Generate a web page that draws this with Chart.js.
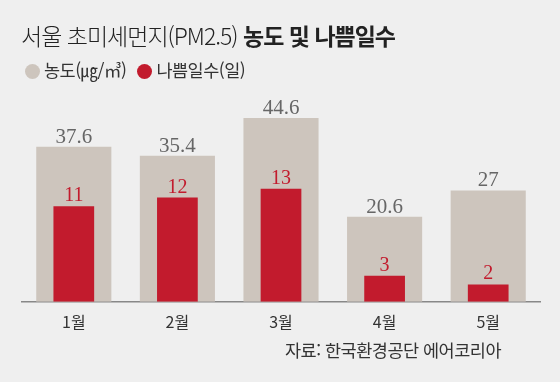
<!DOCTYPE html>
<html lang="ko">
<head>
<meta charset="utf-8">
<script src="https://cdn.jsdelivr.net/npm/chart.js@4/dist/chart.umd.min.js"></script>
<style>
  html, body { margin: 0; padding: 0; }
  body { width: 560px; height: 382px; background: #efefef; position: relative; overflow: hidden;
         font-family: "Noto Sans CJK KR", "Noto Sans", sans-serif; color: #222; }
  #title { position: absolute; left: 21px; top: 18px; font-size: 23px; letter-spacing: -1px; white-space: nowrap; font-weight: 300; }
  #title b { font-weight: 700; }
  #legend { position: absolute; left: 25px; top: 57px; font-size: 17.5px; color: #333; white-space: nowrap; letter-spacing: -0.5px; }
  #legend span.dot { display: inline-block; width: 15px; height: 15px; border-radius: 50%; vertical-align: -2px; margin-right: 4px; }
  #legend span.item { margin-right: 11px; }
  #source { position: absolute; right: 59px; top: 337px; font-size: 17.5px; color: #333; letter-spacing: -0.5px; white-space: nowrap; }
  #wrap { position: absolute; left: 0; top: 0; width: 560px; height: 382px; }
</style>
</head>
<body>
<div id="wrap"><canvas id="chart"></canvas></div>
<div id="title">서울 초미세먼지(PM2.5) <b>농도 및 나쁨일수</b></div>
<div id="legend"><span class="item"><span class="dot" style="background:#cdc5bd"></span>농도(㎍/㎥)</span><span class="item"><span class="dot" style="background:#c21b2d"></span>나쁨일수(일)</span></div>
<div id="source">자료: 한국환경공단 에어코리아</div>
<script>
// 월별 값
const months = ["1월", "2월", "3월", "4월", "5월"];
const pm25 = [37.6, 35.4, 44.6, 20.6, 27];
const badDays = [11, 12, 13, 3, 2];

const grayColor = "#cdc5bd";
const redColor = "#c21b2d";

// bar value labels
const valueLabels = {
  id: "valueLabels",
  afterDatasetsDraw(chart) {
    const ctx = chart.ctx;
    ctx.save();
    chart.data.datasets.forEach((ds, i) => {
      const meta = chart.getDatasetMeta(i);
      ctx.font = ds.labelFont;
      ctx.fillStyle = ds.labelColor;
      ctx.textAlign = "center";
      ctx.textBaseline = "alphabetic";
      meta.data.forEach((bar, j) => {
        ctx.fillText(String(ds.data[j]), bar.x, bar.y - ds.labelGap);
      });
    });
    ctx.restore();
  }
};

new Chart(document.getElementById("chart"), {
  type: "bar",
  data: {
    labels: months,
    datasets: [
      {
        label: "나쁨일수(일)",
        data: badDays,
        backgroundColor: redColor,
        yAxisID: "yDays",
        grouped: false,
        order: 0,
        barPercentage: 0.393,
        categoryPercentage: 1,
        labelFont: "20px 'Liberation Serif', serif",
        labelColor: redColor,
        labelGap: 5,
      },
      {
        label: "농도(㎍/㎥)",
        data: pm25,
        backgroundColor: grayColor,
        yAxisID: "yPm",
        grouped: false,
        order: 1,
        barPercentage: 0.725,
        categoryPercentage: 1,
        labelFont: "21px 'Liberation Serif', serif",
        labelColor: "#666",
        labelGap: 4,
      },
    ],
  },
  options: {
    responsive: true,
    maintainAspectRatio: false,
    animation: false,
    layout: { padding: { left: 22, right: 20, top: 75, bottom: 39 } },
    plugins: { legend: { display: false }, tooltip: { enabled: false } },
    scales: {
      x: {
        grid: { display: false, drawTicks: false },
        border: { display: true, color: "#888", width: 1.5 },
        ticks: { color: "#333", font: { family: "'Noto Sans CJK KR'", size: 16 }, padding: 11 },
      },
      yPm: { display: false, min: 0, max: 55 },
      yDays: { display: false, min: 0, max: 26.1 },
    },
  },
  plugins: [valueLabels],
});
</script>
</body>
</html>
